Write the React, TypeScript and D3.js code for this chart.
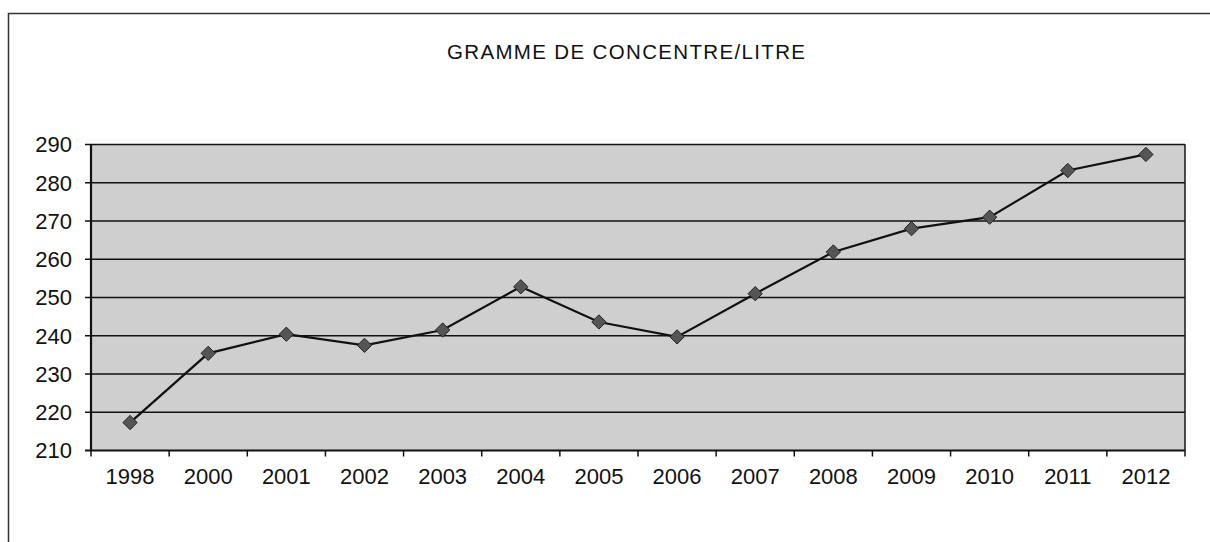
import React from "react";
import * as d3 from "d3";

const years = ["1998", "2000", "2001", "2002", "2003", "2004", "2005", "2006", "2007", "2008", "2009", "2010", "2011", "2012"];
const values = [217.3, 235.4, 240.4, 237.5, 241.5, 252.8, 243.6, 239.7, 251, 261.9, 268, 271, 283.2, 287.4];
const yTicks = [210, 220, 230, 240, 250, 260, 270, 280, 290];
const title = "GRAMME DE CONCENTRE/LITRE";

const W = 1210;
const H = 542;
const left = 91;
const right = 1185;
const top = 144.5;
const bottom = 450.5;
const FONT = "'Liberation Sans', Arial, sans-serif";

export default function App() {
  const x = d3.scaleBand<string>().domain(years).range([left, right]).padding(0);
  const y = d3.scaleLinear().domain([210, 290]).range([bottom, top]);
  const cx = (d: string) => (x(d) ?? 0) + x.bandwidth() / 2;
  const line = d3
    .line<number>()
    .x((_, i) => cx(years[i]))
    .y((v) => y(v));
  const diamond = d3.symbol().type(d3.symbolDiamond2).size(130)();
  const boundaries = years.map((d) => x(d) ?? 0).concat([right]);

  return (
    <svg
      width={W}
      height={H}
      style={{ position: "absolute", left: 0, top: 0, background: "#fff" }}
      fontFamily={FONT}
    >
      <path d={`M8.5,${H} L8.5,13.5 L${W},13.5`} fill="none" stroke="#333" strokeWidth={1.5} />
      <text x={626} y={58.5} textAnchor="middle" fontSize={20.5} textLength={358} lengthAdjust="spacing" fill="#111">
        {title}
      </text>
      <rect x={left} y={top} width={right - left} height={bottom - top} fill="#cfcfcf" stroke="#222" strokeWidth={1} />
      {yTicks.map((t) => (
        <g key={t}>
          <line x1={left - 6} x2={right} y1={y(t)} y2={y(t)} stroke="#111" strokeWidth={t === 210 ? 2.2 : 1.5} />
          <text x={72} y={y(t)} dy="0.36em" textAnchor="end" fontSize={22} fill="#111">
            {t}
          </text>
        </g>
      ))}
      <line x1={left} x2={left} y1={top} y2={bottom} stroke="#111" strokeWidth={2.2} />
      <line x1={right} x2={right} y1={top} y2={bottom} stroke="#222" strokeWidth={1.2} />
      {boundaries.map((b, i) => (
        <line key={i} x1={b} x2={b} y1={bottom} y2={bottom + 6} stroke="#111" strokeWidth={1.5} />
      ))}
      {years.map((d) => (
        <text key={d} x={cx(d)} y={476} dy="0.36em" textAnchor="middle" fontSize={22} fill="#111">
          {d}
        </text>
      ))}
      <path d={line(values) ?? ""} fill="none" stroke="#111" strokeWidth={2.2} />
      {values.map((v, i) => (
        <path
          key={i}
          d={diamond ?? ""}
          transform={`translate(${cx(years[i])},${y(v)})`}
          fill="#555"
          stroke="#222"
          strokeWidth={1}
        />
      ))}
    </svg>
  );
}
